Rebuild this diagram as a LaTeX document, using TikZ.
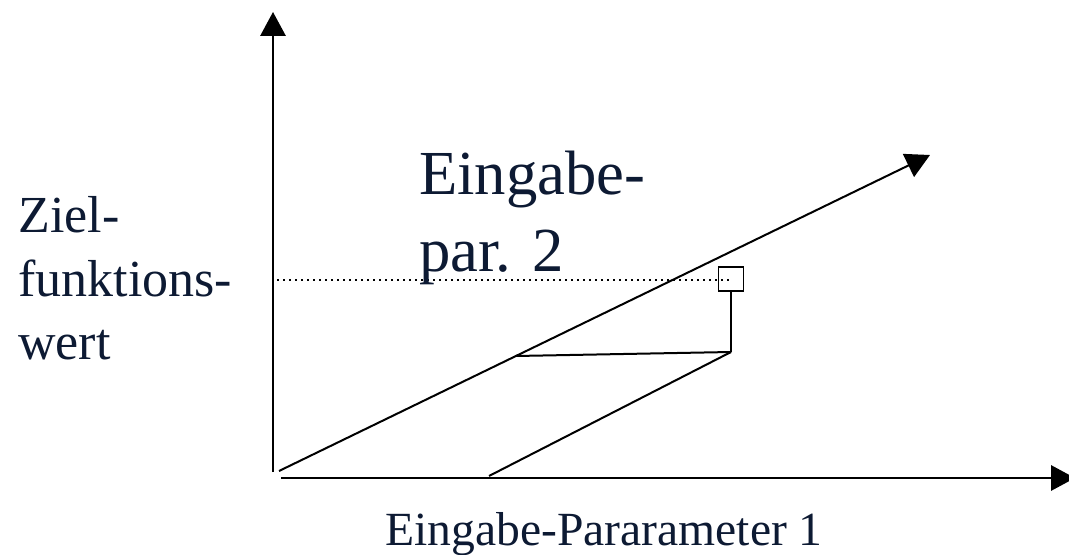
\documentclass[tikz,border=0pt]{standalone}
\usepackage{fontspec}
\setmainfont{Liberation Serif}
\usetikzlibrary{arrows.meta}
\definecolor{txt}{HTML}{0D1A33}
\begin{document}
\begin{tikzpicture}[x=0.75pt,y=-0.75pt,
  axis/.style={line width=1.5pt,-{Triangle[length=18pt,width=19pt]}},
  ln/.style={line width=1.5pt},
  lbl/.style={text=txt,inner sep=0pt,anchor=base west}]
\useasboundingbox (0,0) rectangle (1069,555);
\coordinate (o) at (273,472);
\coordinate (yt) at (273,12);
\coordinate (xo) at (281,478);
\coordinate (xt) at (1075,478);
\coordinate (d0) at (279,471);
\coordinate (dt) at (930,155);
\coordinate (p0) at (489,476);
\coordinate (p1) at (731,352);
\coordinate (h0) at (516,356);
\coordinate (dl) at (277,280);
\coordinate (dr) at (730,280);
\draw[axis] (o) -- (yt);
\draw[axis] (xo) -- (xt);
\draw[axis] (d0) -- (dt);
\draw[ln] (p0) -- (p1);
\draw[ln] (h0) -- (p1);
\node[draw,line width=1.1pt,minimum width=18.75pt,minimum height=18pt,inner sep=0pt] (sq) at (731,279) {};
\draw[ln] (p1) -- (sq.south);
\draw[line width=1.5pt,dash pattern=on 1.5pt off 3pt] (dl) -- (dr);
\node[lbl,font=\fontsize{47pt}{57pt}\selectfont] (t1) at (419,195) {Eingabe-};
\node[lbl,font=\fontsize{47pt}{57pt}\selectfont] (t2) at (419,272) {par. 2};
\node[lbl,font=\fontsize{39pt}{44pt}\selectfont] (z1) at (18,233) {Ziel-};
\node[lbl,font=\fontsize{39pt}{44pt}\selectfont] (z2) at (18,297) {funktions-};
\node[lbl,font=\fontsize{39pt}{44pt}\selectfont] (z3) at (18,359) {wert};
\node[lbl,font=\fontsize{35.7pt}{44pt}\selectfont] (xl) at (385,545) {Eingabe-Pararameter 1};
\end{tikzpicture}
\end{document}
